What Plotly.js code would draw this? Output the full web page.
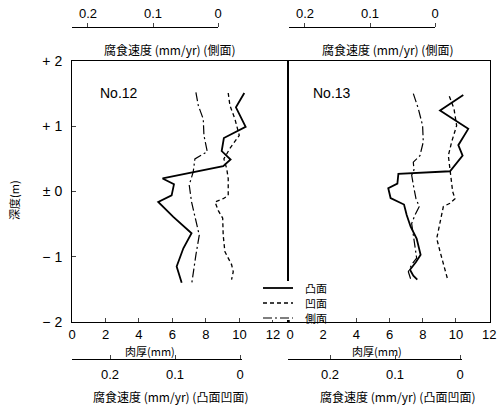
<!DOCTYPE html>
<html><head><meta charset="utf-8">
<script src="https://cdn.plot.ly/plotly-3.0.1.min.js"></script>
<style>html,body{margin:0;padding:0;background:#fff}#c{width:498px;height:406px}</style>
</head><body><div id="c"></div>
<script>
// ---- data (thickness mm vs depth m) ----
const depthTicks = [-2, -1, 0, 1, 2];
const depthTickText = ['− 2', '− 1', '± 0', '+ 1', '+ 2'];
const thickTicks = [0, 2, 4, 6, 8, 10, 12];
const rateTicks = [0.2, 0.1, 0];
const rateTickText = ['0.2', '0.1', '0'];
const seriesNames = ['凸面', '凹面', '側面'];

// No.12
const no12ConvexThick = [10.29, 9.79, 10.37, 9.07, 8.94, 9.47, 9.03, 5.41, 6.09, 5.95, 5.15, 6.05, 7.14, 6.65, 6.25, 6.55];
const no12ConvexDepth = [1.51, 1.29, 0.99, 0.82, 0.62, 0.49, 0.39, 0.20, 0.11, -0.06, -0.16, -0.39, -0.64, -0.87, -1.15, -1.40];
const no12ConcaveThick = [9.33, 9.43, 9.73, 9.99, 9.43, 9.07, 9.24, 9.33, 9.33, 9.03, 8.54, 8.73, 9.00, 9.03, 9.13, 9.53, 9.63, 9.53];
const no12ConcaveDepth = [1.51, 1.32, 1.11, 0.86, 0.66, 0.50, 0.35, 0.20, -0.06, -0.11, -0.16, -0.29, -0.41, -0.67, -0.92, -1.12, -1.23, -1.35];
const no12SideThick = [7.40, 7.54, 7.84, 7.88, 8.08, 7.34, 7.24, 7.00, 7.14, 7.44, 7.60, 7.40, 7.24, 7.14];
const no12SideDepth = [1.52, 1.32, 1.11, 0.86, 0.61, 0.50, 0.30, 0.10, -0.16, -0.51, -0.67, -0.97, -1.23, -1.43];

// No.13
const no13ConvexThick = [10.44, 9.04, 10.74, 10.14, 10.40, 9.64, 6.53, 6.47, 5.92, 6.06, 6.87, 7.03, 7.27, 7.63, 7.87, 7.59, 7.23, 7.43, 7.67];
const no13ConvexDepth = [1.48, 1.24, 0.96, 0.71, 0.55, 0.31, 0.27, 0.12, 0.05, -0.10, -0.20, -0.36, -0.54, -0.72, -0.97, -1.08, -1.20, -1.29, -1.35];
const no13ConcaveThick = [9.60, 9.88, 10.04, 9.74, 9.54, 9.64, 9.74, 9.80, 9.94, 9.64, 9.24, 9.04, 8.84, 9.04, 9.34, 9.50];
const no13ConcaveDepth = [1.46, 1.27, 1.01, 0.76, 0.55, 0.35, 0.20, 0.00, -0.11, -0.18, -0.23, -0.46, -0.72, -0.92, -1.18, -1.35];
const no13SideThick = [7.43, 7.73, 7.99, 8.03, 7.83, 7.43, 7.47, 7.33, 7.43, 7.59, 7.79, 7.53, 7.33, 7.43, 7.53, 7.63, 7.33, 7.13, 7.27];
const no13SideDepth = [1.50, 1.27, 1.01, 0.76, 0.55, 0.45, 0.33, 0.25, 0.10, -0.11, -0.23, -0.36, -0.49, -0.67, -0.87, -1.02, -1.12, -1.23, -1.34];

// ---- layout helpers (pixel -> paper) ----
const W = 498, H = 406, ML = 72, MR = 8, MT = 8, MB = 30;
const PW = W - ML - MR, PH = H - MT - MB;
const fx = px => (px - ML) / PW;
const fy = py => (H - MB - py) / PH;

const FONT = '"Liberation Sans", "Noto Sans CJK JP", sans-serif';
const JFONT = '"Noto Sans CJK JP", sans-serif';

const styles = [
  {dash: 'solid', width: 1.8},
  {dash: '4px,3px', width: 1.3},
  {dash: '9px,3px,2px,3px', width: 1.2}
];

function tr(x, y, i, xa, ya) {
  return {x: x, y: y, type: 'scatter', mode: 'lines', name: seriesNames[i],
    xaxis: xa, yaxis: ya, showlegend: false, hoverinfo: 'skip',
    line: {color: '#000', dash: styles[i].dash, width: styles[i].width}};
}
// invisible carrier traces so the free rate axes get drawn
function carrier(xa, xv) {
  return {x: [xv], y: [-5], xaxis: xa, yaxis: 'y', type: 'scatter', mode: 'markers',
    marker: {opacity: 0}, showlegend: false, hoverinfo: 'skip'};
}

const data = [
  tr(no12ConvexThick, no12ConvexDepth, 0, 'x', 'y'),
  tr(no12ConcaveThick, no12ConcaveDepth, 1, 'x', 'y'),
  tr(no12SideThick, no12SideDepth, 2, 'x', 'y'),
  tr(no13ConvexThick, no13ConvexDepth, 0, 'x2', 'y2'),
  tr(no13ConcaveThick, no13ConcaveDepth, 1, 'x2', 'y2'),
  tr(no13SideThick, no13SideDepth, 2, 'x2', 'y2'),
  carrier('x3', 0.1), carrier('x4', 0.1), carrier('x5', 0.1), carrier('x6', 0.1)
];

const yDom = [fy(322), fy(61)];
const tickFont = {family: FONT, size: 13, color: '#000'};
const baseX = {tickvals: thickTicks, ticktext: thickTicks.map(String), ticks: 'inside', ticklen: 4,
  showline: true, mirror: true, linecolor: '#000', linewidth: 1, showgrid: false, zeroline: false,
  tickfont: tickFont, ticklabelstandoff: 0, fixedrange: true};
const rateAx = (dom, range, pos, side, ticks) => ({domain: dom, range: range, anchor: 'free', position: pos,
  side: side, tickvals: rateTicks, ticktext: rateTickText, ticks: ticks, ticklen: 4, showline: true,
  linecolor: '#000', linewidth: 1, showgrid: false, zeroline: false, tickfont: tickFont,
  ticklabelstandoff: side === 'top' ? 0 : 3});

const ann = (text, px, py, size, extra) => Object.assign({text: text, x: fx(px), y: fy(py),
  xref: 'paper', yref: 'paper', showarrow: false, xanchor: 'center', yanchor: 'middle',
  font: {family: JFONT, size: size, color: '#000'}}, extra || {});

// manual legend (lines + labels) sitting on a white patch that breaks the panel borders
const legendRows = [288, 303, 318];
const shapes = [{type: 'rect', xref: 'paper', yref: 'paper', x0: fx(256), x1: fx(340), y0: fy(320), y1: fy(281),
  fillcolor: '#fff', line: {width: 0}, layer: 'above'}];
const legendAnn = [];
legendRows.forEach((py, i) => {
  shapes.push({type: 'line', xref: 'paper', yref: 'paper', x0: fx(263), x1: fx(293), y0: fy(py), y1: fy(py),
    line: {color: '#000', width: styles[i].width, dash: styles[i].dash}, layer: 'above'});
  legendAnn.push(ann(seriesNames[i], 304, py, 11, {xanchor: 'left', borderpad: 0}));
});

const layout = {
  width: W, height: H, margin: {l: ML, r: MR, t: MT, b: MB}, paper_bgcolor: '#fff', plot_bgcolor: 'rgba(0,0,0,0)',
  showlegend: false,
  xaxis: Object.assign({}, baseX, {domain: [0, fx(288)], range: [0, 12.9], anchor: 'y'}),
  xaxis2: Object.assign({}, baseX, {domain: [fx(288), 1], range: [-0.12, 12.05], anchor: 'y2'}),
  yaxis: {domain: yDom, range: [-2, 2], anchor: 'x', tickvals: depthTicks, ticktext: depthTickText,
    ticks: 'inside', ticklen: 4, showline: true, mirror: true, linecolor: '#000', linewidth: 1,
    showgrid: false, zeroline: false, tickfont: {family: FONT, size: 14, color: '#000'}, ticklabelstandoff: 6},
  yaxis2: {domain: yDom, range: [-2, 2], anchor: 'x2', matches: 'y', showticklabels: false, ticks: '',
    showline: true, mirror: true, linecolor: '#000', linewidth: 1, showgrid: false, zeroline: false},
  xaxis3: rateAx([0, fx(218)], [0.2246, 0], fy(27), 'top', 'outside'),
  xaxis4: rateAx([fx(289), fx(435)], [0.2246, 0], fy(27), 'top', 'outside'),
  xaxis5: rateAx([0, fx(242)], [0.2585, -0.003], fy(359), 'bottom', 'inside'),
  xaxis6: rateAx([fx(288), fx(462)], [0.2646, -0.003], fy(359), 'bottom', 'inside'),
  shapes: shapes,
  annotations: [
    ann('No.12', 119, 93, 14, {font: {family: FONT, size: 14, color: '#000'}}),
    ann('No.13', 332, 93, 14, {font: {family: FONT, size: 14, color: '#000'}}),
    ann('腐食速度 (mm/yr) (側面)', 169, 49, 12),
    ann('腐食速度 (mm/yr) (側面)', 387, 49, 12),
    ann('肉厚(mm)', 150, 351, 11, {borderpad: 0}),
    ann('肉厚(mm)', 377, 351, 11, {borderpad: 0}),
    ann('腐食速度 (mm/yr) (凸面凹面)', 170, 396, 12),
    ann('腐食速度 (mm/yr) (凸面凹面)', 397, 396, 12),
    ann('深度(m)', 14, 200, 11, {textangle: -90})
  ].concat(legendAnn)
};

Plotly.newPlot('c', data, layout, {staticPlot: true, displayModeBar: false});
</script></body></html>
